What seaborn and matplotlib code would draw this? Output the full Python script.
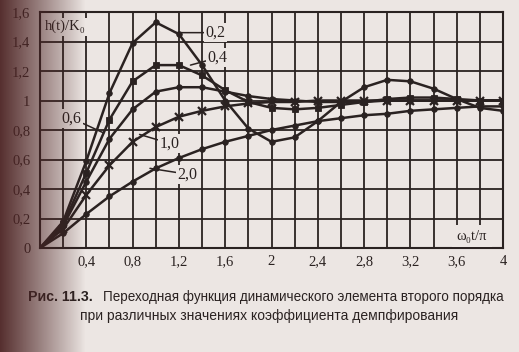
import numpy as np
import pandas as pd
import matplotlib
matplotlib.use("Agg")
import matplotlib.pyplot as plt
import seaborn as sns

# ------------------------------------------
# Step response h(t)/K0 of a 2nd order element
# for several damping ratios
# ------------------------------------------

t = [0, 0.2, 0.4, 0.6, 0.8, 1.0, 1.2, 1.4, 1.6, 1.8, 2.0,
     2.2, 2.4, 2.6, 2.8, 3.0, 3.2, 3.4, 3.6, 3.8, 4.0]

h_02 = [0, 0.18, 0.59, 1.05, 1.39, 1.53, 1.45, 1.24, 1.00, 0.81, 0.72,
        0.75, 0.86, 0.99, 1.09, 1.14, 1.13, 1.08, 1.01, 0.95, 0.93]
h_04 = [0, 0.16, 0.51, 0.87, 1.13, 1.24, 1.24, 1.17, 1.07, 0.99, 0.95,
        0.94, 0.95, 0.97, 0.99, 1.01, 1.02, 1.02, 1.01, 1.00, 1.00]
h_06 = [0, 0.15, 0.45, 0.74, 0.94, 1.06, 1.09, 1.09, 1.06, 1.03, 1.01,
        1.00, 0.99, 0.99, 0.99, 1.00, 1.00, 1.00, 1.00, 1.00, 1.00]
h_10 = [0, 0.13, 0.36, 0.56, 0.72, 0.82, 0.89, 0.93, 0.96, 0.98, 0.99,
        0.99, 1.00, 1.00, 1.00, 1.00, 1.00, 1.00, 1.00, 1.00, 1.00]
h_20 = [0, 0.10, 0.23, 0.35, 0.45, 0.54, 0.61, 0.67, 0.72, 0.76, 0.80,
        0.83, 0.86, 0.88, 0.90, 0.91, 0.93, 0.94, 0.95, 0.96, 0.96]

zeta_labels = ["0,2", "0,4", "0,6", "1,0", "2,0"]

PAPER = "#ece6e3"
INK = "#2a2221"

sns.set_theme(style="white")
plt.rcParams['font.family'] = ['Liberation Serif', 'DejaVu Serif']

fig, ax = plt.subplots(figsize=(5.19, 3.52), dpi=100)
fig.patch.set_facecolor(PAPER)
ax.set_facecolor(PAPER)
ax.set_position([40 / 519, 104 / 352, 463 / 519, 236 / 352])

# one line per damping ratio, markers like in the book
styles = [(h_02, "o", 4.0, 0.6), (h_04, "s", 5.0, 0.6), (h_06, "o", 4.0, 0.6),
          (h_10, "x", 6.0, 1.6), (h_20, "o", 4.0, 0.6)]
for h, mk, ms, mew in styles:
    sns.lineplot(x=t, y=h, ax=ax, color=INK, lw=1.8, marker=mk,
                 markersize=ms, markerfacecolor=INK, markeredgecolor=INK,
                 markeredgewidth=mew, zorder=3)

ax.set_xlim(0, 4)
ax.set_ylim(0, 1.6)


def comma(v):
    s = f"{v:.1f}".rstrip("0").rstrip(".")
    return s.replace(".", ",")


xt = np.round(np.arange(0, 4.01, 0.2), 1)
ax.set_xticks(xt)
ax.set_xticklabels([comma(v) if (round(v / 0.4, 3) % 1 == 0 and v > 0) else "" for v in xt])
yt = np.round(np.arange(0, 1.61, 0.2), 1)
ax.set_yticks(yt)
ax.set_yticklabels([comma(v) for v in yt])
ax.tick_params(length=0, labelsize=10.5, colors=INK)
ax.tick_params(axis="x", pad=5)
ax.tick_params(axis="y", pad=7)

ax.grid(True, color=INK, lw=1.3)
for sp in ax.spines.values():
    sp.set_color(INK)
    sp.set_linewidth(1.5)
ax.set_xlabel("")
ax.set_ylabel("")

box = dict(boxstyle="square,pad=0.1", fc=PAPER, ec="none")
lead = dict(arrowstyle="-", color=INK, lw=1.1, shrinkA=0, shrinkB=0)

ax.annotate(zeta_labels[0], xy=(1.18, 1.46), xytext=(1.43, 1.46), fontsize=11.5,
            color=INK, va="center", ha="left", bbox=box, arrowprops=lead, zorder=5)
ax.annotate(zeta_labels[1], xy=(1.30, 1.24), xytext=(1.45, 1.29), fontsize=11.5,
            color=INK, va="center", ha="left", bbox=box, arrowprops=lead, zorder=5)
ax.annotate(zeta_labels[2], xy=(0.55, 0.78), xytext=(0.36, 0.88), fontsize=11.5,
            color=INK, va="center", ha="right", bbox=box, arrowprops=lead, zorder=5)
ax.annotate(zeta_labels[3], xy=(0.86, 0.77), xytext=(1.03, 0.71), fontsize=11.5,
            color=INK, va="center", ha="left", bbox=box, arrowprops=lead, zorder=5)
ax.annotate(zeta_labels[4], xy=(0.95, 0.54), xytext=(1.19, 0.50), fontsize=11.5,
            color=INK, va="center", ha="left", bbox=box, arrowprops=lead, zorder=5)

ax.text(0.04, 1.50, "h(t)/K₀", fontsize=10.5, color=INK, va="center", ha="left",
        bbox=dict(boxstyle="square,pad=0.15", fc=PAPER, ec="none"), zorder=5)
ax.text(3.6, 0.08, "ω₀t/π", fontsize=10.5, color=INK, va="center", ha="left",
        bbox=dict(boxstyle="square,pad=0.3", fc=PAPER, ec="none"), zorder=5)

# caption
cap = ['Liberation Sans', 'DejaVu Sans']
fig.text(28 / 519, 1 - 297 / 352, "Рис. 11.3.", family=cap, fontsize=10.2,
         fontweight="bold", color=INK, va="center", ha="left")
fig.text(103 / 519, 1 - 297 / 352,
         "Переходная функция динамического элемента второго порядка",
         family=cap, fontsize=9.75, color=INK, va="center", ha="left")
fig.text(269 / 519, 1 - 316 / 352,
         "при различных значениях коэффициента демпфирования",
         family=cap, fontsize=10.0, color=INK, va="center", ha="center")

# dark shadow of the book binding on the left edge
px = np.arange(519)
alpha = np.clip(1 - px / 85, 0, 1) ** 0.95 * 0.94
shade = np.zeros((352, 519, 4))
shade[..., 0] = 0.30
shade[..., 1] = 0.14
shade[..., 2] = 0.14
shade[..., 3] = alpha[None, :]
ov = fig.add_axes([0, 0, 1, 1], zorder=10)
ov.imshow(shade, aspect="auto", extent=[0, 1, 0, 1])
ov.axis("off")

fig.savefig("out.png", dpi=100, facecolor=PAPER)
